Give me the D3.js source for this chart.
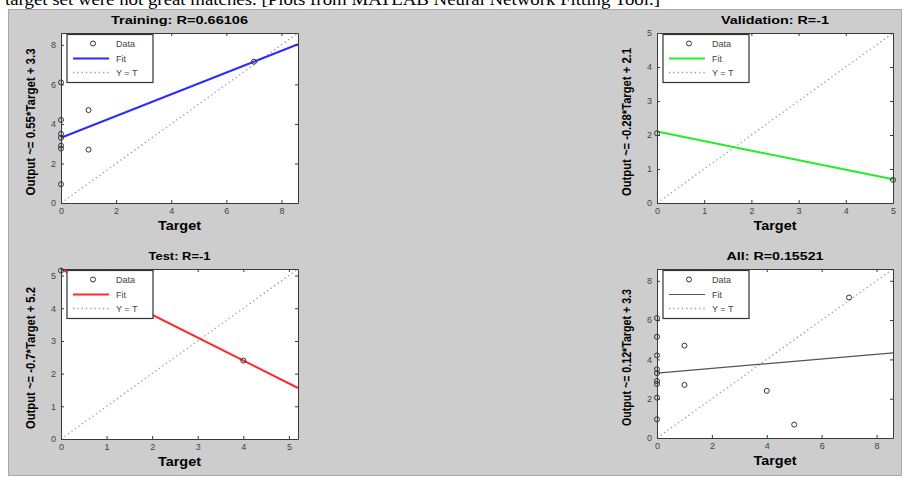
<!DOCTYPE html>
<html>
<head>
<meta charset="utf-8">
<script src="https://cdn.jsdelivr.net/npm/d3@7"></script>
<style>
  body { margin: 0; background: #fff; }
  svg { display: block; }
  .tick text { font-family: "Liberation Sans", Arial, sans-serif; font-size: 9px; fill: #444; }
</style>
</head>
<body>
<svg id="fig" width="908" height="487"></svg>
<script>
// Targets and network outputs for each data split
const trainTarget = [0, 0, 0, 0, 0, 0, 0, 1, 1, 7];
const trainOutput = [6.1, 4.2, 3.5, 3.3, 2.9, 2.75, 0.95, 4.7, 2.7, 7.15];
const valTarget = [0, 5];
const valOutput = [2.05, 0.68];
const testTarget = [0, 4];
const testOutput = [5.15, 2.4];
const allTarget = trainTarget.concat(valTarget, testTarget);
const allOutput = trainOutput.concat(valOutput, testOutput);

// Fit coefficients [slope, offset] and axis limits
const fitCoef = [[0.55, 3.3], [-0.28, 2.1], [-0.7, 5.2], [0.12, 3.3]];
const axisMax = [8.6, 5, 5.2, 8.6];
const titles = ["Training: R=0.66106", "Validation: R=-1", "Test: R=-1", "All: R=0.15521"];
const yLabels = ["Output ~= 0.55*Target + 3.3", "Output ~= -0.28*Target + 2.1",
                 "Output ~= -0.7*Target + 5.2", "Output ~= 0.12*Target + 3.3"];
const tickLabels = [[0, 2, 4, 6, 8], [0, 1, 2, 3, 4, 5], [0, 1, 2, 3, 4, 5], [0, 2, 4, 6, 8]];
const legendLabels = ["Data", "Fit", "Y = T"];

const svg = d3.select("#fig");
const FONT = '"Liberation Sans", Arial, sans-serif';

// page text above the figure (cut off in the screenshot)
svg.append("text")
    .attr("x", 5).attr("y", 5)
    .attr("font-family", '"Liberation Serif", "Times New Roman", serif')
    .attr("font-size", 17)
    .attr("textLength", 655).attr("lengthAdjust", "spacingAndGlyphs")
    .text("target set were not great matches. [Plots from MATLAB Neural Network Fitting Tool.]");

// grey figure window
svg.append("rect")
    .attr("x", 8.5).attr("y", 9.5).attr("width", 893).attr("height", 466)
    .attr("fill", "#cdcdcd").attr("stroke", "#a8a8a8");

// plot boxes (left, right, top, bottom) and line colors
const boxes = [
    { l: 61, r: 298, t: 33, b: 203 },
    { l: 657, r: 893, t: 33, b: 203 },
    { l: 61, r: 298, t: 269, b: 439 },
    { l: 657, r: 893, t: 269, b: 438 }
];
const fitColors = ["#2b2bff", "#22ee22", "#ff2b2b", "#555"];
const fitWidths = [2, 2, 2, 1.2];
const titleLen = [137, 108, 62, 97];
const yLabelLen = [147, 148, 142, 137];

const panels = [
    { t: trainTarget, y: trainOutput },
    { t: valTarget, y: valOutput },
    { t: testTarget, y: testOutput },
    { t: allTarget, y: allOutput }
];

panels.forEach((p, i) => {
    const box = boxes[i];
    const x = d3.scaleLinear().domain([0, axisMax[i]]).range([box.l, box.r]);
    const y = d3.scaleLinear().domain([0, axisMax[i]]).range([box.b, box.t]);
    const g = svg.append("g");
    const cx = (box.l + box.r) / 2;

    g.append("rect")
        .attr("x", box.l).attr("y", box.t)
        .attr("width", box.r - box.l).attr("height", box.b - box.t)
        .attr("fill", "#fff");

    // Y = T dotted line
    g.append("line")
        .attr("x1", x(0)).attr("y1", y(0))
        .attr("x2", x(axisMax[i])).attr("y2", y(axisMax[i]))
        .attr("stroke", "#9a9a9a").attr("stroke-width", 1.3)
        .attr("stroke-dasharray", "1.3,3");

    // fit line
    const f = fitCoef[i];
    g.append("line")
        .attr("x1", x(0)).attr("y1", y(f[1]))
        .attr("x2", x(axisMax[i])).attr("y2", y(f[0] * axisMax[i] + f[1]))
        .attr("stroke", fitColors[i]).attr("stroke-width", fitWidths[i]);

    // data points
    g.selectAll("circle.pt")
        .data(p.t.map((d, k) => [d, p.y[k]]))
        .join("circle")
        .attr("class", "pt")
        .attr("cx", d => x(d[0])).attr("cy", d => y(d[1]))
        .attr("r", 2.5)
        .attr("fill", "none").attr("stroke", "#333").attr("stroke-width", 1);

    // axes with inward ticks on all four sides
    const fmt = d3.format("d");
    const ax = [
        [d3.axisBottom(x).tickValues(tickLabels[i]).tickFormat(fmt), `translate(0,${box.b})`],
        [d3.axisLeft(y).tickValues(tickLabels[i]).tickFormat(fmt), `translate(${box.l},0)`],
        [d3.axisTop(x).tickValues(tickLabels[i]).tickFormat(""), `translate(0,${box.t})`],
        [d3.axisRight(y).tickValues(tickLabels[i]).tickFormat(""), `translate(${box.r},0)`]
    ];
    ax.forEach(a => {
        const ag = g.append("g").attr("transform", a[1])
            .call(a[0].tickSizeInner(-3).tickSizeOuter(0).tickPadding(5));
        ag.select(".domain").attr("stroke", "#3a3a3a");
        ag.selectAll(".tick line").attr("stroke", "#3a3a3a");
    });

    // legend
    const lx = box.l + 6, ly = box.t + 1.5;
    const lg = g.append("g").attr("transform", `translate(${lx},${ly})`);
    lg.append("rect").attr("width", 86).attr("height", 48)
        .attr("fill", "#fff").attr("stroke", "#333").attr("stroke-width", 1.2);
    lg.append("circle").attr("cx", 26).attr("cy", 9).attr("r", 2.5)
        .attr("fill", "none").attr("stroke", "#333");
    lg.append("line").attr("x1", 6).attr("x2", 42).attr("y1", 24).attr("y2", 24)
        .attr("stroke", fitColors[i]).attr("stroke-width", fitWidths[i]);
    lg.append("line").attr("x1", 6).attr("x2", 42).attr("y1", 38).attr("y2", 38)
        .attr("stroke", "#9a9a9a").attr("stroke-width", 1.3).attr("stroke-dasharray", "1.3,3");
    lg.selectAll("text.leg")
        .data(legendLabels)
        .join("text")
        .attr("class", "leg")
        .attr("x", 49).attr("y", (d, k) => [9, 24, 38][k])
        .attr("dy", "0.35em")
        .attr("font-family", FONT).attr("font-size", 9).attr("fill", "#444")
        .text(d => d);

    // title
    g.append("text")
        .attr("x", cx).attr("y", box.t - 13).attr("dy", "0.35em")
        .attr("text-anchor", "middle")
        .attr("font-family", FONT).attr("font-size", 10.5).attr("font-weight", "bold")
        .attr("textLength", titleLen[i]).attr("lengthAdjust", "spacingAndGlyphs")
        .text(titles[i]);

    // x label
    g.append("text")
        .attr("x", cx).attr("y", box.b + 23).attr("dy", "0.35em")
        .attr("text-anchor", "middle")
        .attr("font-family", FONT).attr("font-size", 12).attr("font-weight", "bold")
        .attr("textLength", 43).attr("lengthAdjust", "spacingAndGlyphs")
        .text("Target");

    // y label (tall, condensed like the MATLAB rendering)
    const yc = (box.t + box.b) / 2 + 4;
    g.append("text")
        .attr("transform", `translate(${box.l - 30},${yc}) rotate(-90)`)
        .attr("dy", "0.35em")
        .attr("text-anchor", "middle")
        .attr("font-family", FONT).attr("font-size", 12.5).attr("font-weight", "bold")
        .attr("textLength", yLabelLen[i]).attr("lengthAdjust", "spacingAndGlyphs")
        .text(yLabels[i]);
});
</script>
</body>
</html>
